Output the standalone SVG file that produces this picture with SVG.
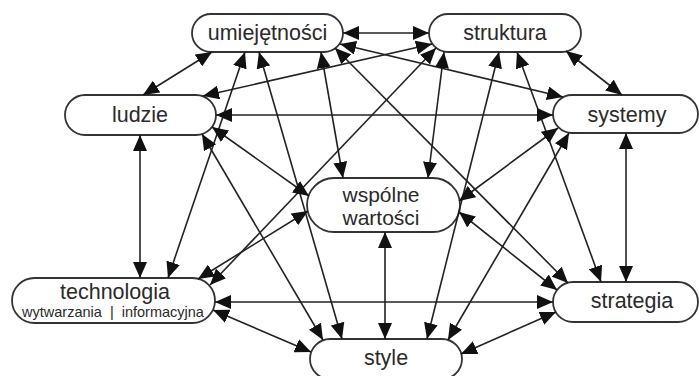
<svg xmlns="http://www.w3.org/2000/svg" width="699" height="376" viewBox="0 0 699 376">
<style>
.box{fill:#fff;stroke:#333;stroke-width:1.8}
.t{font-family:"Liberation Sans",Arial,sans-serif;font-size:21.5px;fill:#2a2a2a;text-anchor:middle}
.w{font-size:21px}
.s{font-size:14.5px}
.c line{stroke:#222;stroke-width:1.6;marker-start:url(#ah);marker-end:url(#ah)}
</style>
<defs>
<marker id="ah" markerUnits="userSpaceOnUse" markerWidth="17" markerHeight="14" refX="16" refY="7" orient="auto-start-reverse">
<path d="M0,0 L16,7 L0,14 Z" fill="#111"/>
</marker>
</defs>
<rect width="699" height="376" fill="#fff"/>
<g id="umiejetnosci"><rect class="box" x="192" y="14" width="151" height="38" rx="19"/><text class="t" x="267.5" y="40">umiejętności</text></g>
<g id="struktura"><rect class="box" x="429" y="14" width="152" height="38" rx="19"/><text class="t" x="505" y="40">struktura</text></g>
<g id="ludzie"><rect class="box" x="65" y="95" width="151" height="40" rx="20"/><text class="t" x="140" y="122">ludzie</text></g>
<g id="systemy"><rect class="box" x="553" y="95" width="145" height="38" rx="19"/><text class="t" x="627" y="122">systemy</text></g>
<g id="wspolne"><rect class="box" x="307" y="178" width="153" height="54" rx="27"/><text class="t w" x="381" y="201.5">wspólne</text><text class="t w" x="381" y="225">wartości</text></g>
<g id="technologia"><rect class="box" x="12" y="278" width="203" height="45" rx="22.5"/><text class="t" x="115" y="298.5">technologia</text><text class="t s" x="113" y="316.5" xml:space="preserve">wytwarzania  |  informacyjna</text></g>
<g id="style"><rect class="box" x="310" y="339" width="152" height="40" rx="20"/><text class="t" x="386" y="365">style</text></g>
<g id="strategia"><rect class="box" x="553" y="282" width="145" height="40" rx="20"/><text class="t" x="632" y="308">strategia</text></g>
<g class="c" id="connectors">
<line x1="343" y1="33" x2="429" y2="33"/>
<line x1="212" y1="52" x2="143" y2="95"/>
<line x1="245" y1="52" x2="168" y2="278"/>
<line x1="259" y1="52" x2="342" y2="339"/>
<line x1="321" y1="52" x2="343" y2="178"/>
<line x1="340" y1="44" x2="563" y2="97"/>
<line x1="335" y1="48" x2="568" y2="283"/>
<line x1="432" y1="44" x2="203" y2="96"/>
<line x1="436" y1="48" x2="210" y2="285"/>
<line x1="444" y1="52" x2="428" y2="178"/>
<line x1="499" y1="52" x2="427" y2="339"/>
<line x1="566" y1="51" x2="622" y2="95"/>
<line x1="517" y1="52" x2="601" y2="282"/>
<line x1="216" y1="115" x2="553" y2="115"/>
<line x1="140" y1="135" x2="140" y2="278"/>
<line x1="212" y1="127" x2="309" y2="196"/>
<line x1="202" y1="134" x2="323" y2="340"/>
<line x1="558" y1="128" x2="459" y2="201"/>
<line x1="569" y1="133" x2="448" y2="340"/>
<line x1="626" y1="133" x2="626" y2="282"/>
<line x1="198" y1="279" x2="308" y2="211"/>
<line x1="215" y1="302" x2="553" y2="302"/>
<line x1="213" y1="310" x2="311" y2="352"/>
<line x1="557" y1="290" x2="459" y2="212"/>
<line x1="556" y1="312" x2="461" y2="354"/>
<line x1="385" y1="232" x2="385" y2="339"/>
</g>
</svg>
